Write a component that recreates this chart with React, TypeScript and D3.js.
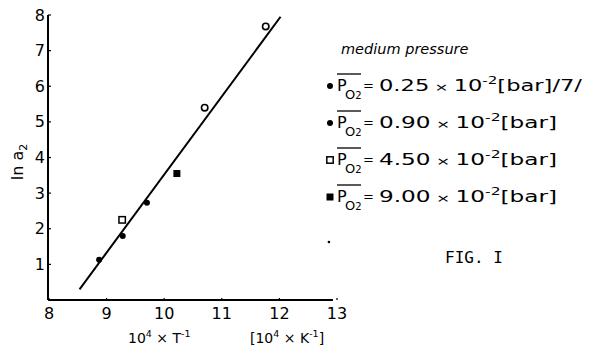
import React from "react";
import * as d3 from "d3";

// Arrhenius-type plot: ln a2 against reciprocal temperature
const xTicks = [8, 9, 10, 11, 12, 13];
const yTicks = [1, 2, 3, 4, 5, 6, 7, 8];

// measured points per oxygen partial pressure
const s1X = [8.87, 9.28, 9.7];
const s1Y = [1.13, 1.8, 2.73];
const s2X = [10.72, 11.78];
const s2Y = [5.4, 7.68];
const s3X = [9.27];
const s3Y = [2.25];
const s4X = [10.22];
const s4Y = [3.55];

// regression line end points
const fitX = [8.53, 12.02];
const fitY = [0.3, 7.95];

const legendValues = ["0.25", "0.90", "4.50", "9.00"];
const legendSuffix = ["[bar]/7/", "[bar]", "[bar]", "[bar]"];
const legendMarkers = ["dot", "dot", "openSquare", "square"];

const W = 596;
const H = 353;
const FONT = "'DejaVu Sans', 'Liberation Sans', sans-serif";

export default function App() {
  const x = d3.scaleLinear().domain([8, 13]).range([49, 337]);
  const y = d3.scaleLinear().domain([0, 8]).range([300, 15]);
  const line = d3
    .line<number>()
    .x((d, i) => x(fitX[i]))
    .y((d, i) => y(fitY[i]));

  const marker = (kind: string, cx: number, cy: number, key: string) => {
    if (kind === "dot") return <circle key={key} cx={cx} cy={cy} r={3} fill="#000" />;
    if (kind === "open")
      return <circle key={key} cx={cx} cy={cy} r={3.2} fill="#fff" stroke="#000" strokeWidth={1.6} />;
    if (kind === "openSquare")
      return (
        <rect key={key} x={cx - 3.2} y={cy - 3.2} width={6.4} height={6.4} fill="#fff" stroke="#000" strokeWidth={1.5} />
      );
    return <rect key={key} x={cx - 3.5} y={cy - 3.5} width={7} height={7} fill="#000" />;
  };

  const rowY = [91, 128, 165, 202];

  return (
    <svg
      width={W}
      height={H}
      style={{ position: "absolute", left: 0, top: 0, background: "#fff" }}
      fontFamily={FONT}
    >
      <rect width={W} height={H} fill="#fff" />
      {/* axes */}
      <line x1={x(8) - 1} x2={x(8) - 1} y1={y(8)} y2={y(0)} stroke="#000" strokeWidth={2} />
      <line x1={x(8) - 1} x2={x(12.93)} y1={y(0)} y2={y(0)} stroke="#000" strokeWidth={2} />
      {yTicks.map((t) => (
        <g key={"yt" + t}>
          <line x1={x(8) - 1} x2={x(8) + 2} y1={y(t)} y2={y(t)} stroke="#000" strokeWidth={1.2} />
          <text x={45} y={y(t) + 5.5} fontSize={16} textAnchor="end">
            {t}
          </text>
        </g>
      ))}
      {xTicks.map((t) => (
        <g key={"xt" + t}>
          <line x1={x(t)} x2={x(t)} y1={y(0)} y2={y(0) - 2} stroke="#000" strokeWidth={1.2} />
          <text x={x(t)} y={319} fontSize={16} textAnchor="middle">
            {t}
          </text>
        </g>
      ))}

      {/* axis titles */}
      <text transform={`translate(23,162) rotate(-90)`} fontSize={16} textAnchor="middle">
        ln a<tspan fontSize={11} dy={4}>2</tspan>
      </text>
      <text x={128} y={343} fontSize={14}>
        10<tspan fontSize={9.5} dy={-6}>4</tspan>
        <tspan dy={6}> × T</tspan>
        <tspan fontSize={9.5} dy={-6}>-1</tspan>
      </text>
      <text x={250} y={343} fontSize={14}>
        [10<tspan fontSize={9.5} dy={-6}>4</tspan>
        <tspan dy={6}> × K</tspan>
        <tspan fontSize={9.5} dy={-6}>-1</tspan>
        <tspan dy={6}>]</tspan>
      </text>

      {/* regression line */}
      <path d={line(fitX) || ""} fill="none" stroke="#000" strokeWidth={2} />

      {/* data points */}
      {s1X.map((v, i) => marker("dot", x(v), y(s1Y[i]), "a" + i))}
      {s2X.map((v, i) => marker("open", x(v) - 1, y(s2Y[i]), "b" + i))}
      {s3X.map((v, i) => marker("openSquare", x(v), y(s3Y[i]), "c" + i))}
      {s4X.map((v, i) => marker("square", x(v), y(s4Y[i]), "d" + i))}

      {/* stray speck */}
      <circle cx={x(12.86)} cy={y(1.63)} r={1.3} fill="#000" />

      {/* legend */}
      <text x={341} y={54} fontSize={14.5} fontStyle="italic">
        medium  pressure
      </text>
      {legendValues.map((v, i) => (
        <g key={"lg" + i}>
          {marker(legendMarkers[i], 330, rowY[i] - 5, "lm" + i)}
          <text x={337} y={rowY[i]} fontSize={16}>
            P
          </text>
          <text x={345} y={rowY[i] + 8} fontSize={13}>
            O<tspan fontSize={10}>2</tspan>
          </text>
          <line x1={337} x2={361} y1={rowY[i] - 17} y2={rowY[i] - 17} stroke="#000" strokeWidth={1.3} />
          <text x={363} y={rowY[i] - 1} fontSize={13}>
            =
          </text>
          <text
            x={379}
            y={rowY[i]}
            fontSize={15}
            textLength={i === 0 ? 203 : 178}
            lengthAdjust="spacingAndGlyphs"
          >
            {v}
            <tspan fontSize={11}> × </tspan>10
            <tspan fontSize={10} dy={-7}>-2</tspan>
            <tspan dy={7}>{legendSuffix[i]}</tspan>
          </text>
        </g>
      ))}

      <text x={445} y={263} fontSize={16} fontFamily="'DejaVu Sans Mono', 'Liberation Mono', monospace">
        FIG. I
      </text>
    </svg>
  );
}
